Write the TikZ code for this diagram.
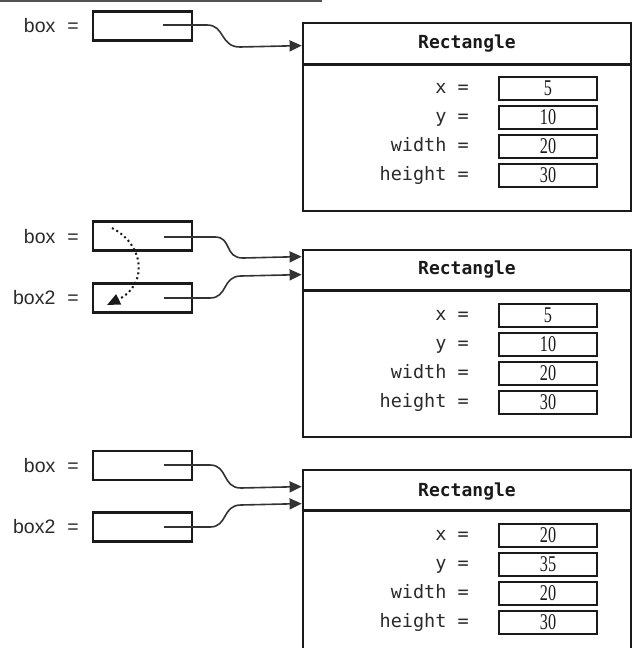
\documentclass[tikz,border=0pt]{standalone}
\usepackage{fontspec}
\setmainfont{Liberation Serif}
\newfontfamily\lblfont{Liberation Sans}
\newfontfamily\fieldfont{DejaVu Sans Mono}
\newfontfamily\valfont[FakeStretch=0.72]{Liberation Serif}
\usetikzlibrary{arrows.meta}

\definecolor{ink}{HTML}{1A1A1A}
\definecolor{txt}{HTML}{2A2A2A}
\definecolor{wire}{HTML}{333333}

\tikzset{
  varlbl/.style={anchor=east, inner sep=0pt, text height=14pt, text depth=4pt,
    text=txt, font=\lblfont\fontsize{19.5}{19}\selectfont},
  refbox/.style={draw=ink, line width=2.6pt, minimum width=99pt, minimum height=29pt, inner sep=0pt},
  objbox/.style={draw=ink, line width=2.8pt, minimum width=328pt, inner sep=0pt},
  objtitle/.style={inner sep=0pt, text=ink, font=\fieldfont\bfseries\fontsize{18}{18}\selectfont},
  fieldlbl/.style={anchor=east, inner sep=0pt, text height=13pt, text depth=4pt,
    text=txt, font=\fieldfont\fontsize{18.5}{18}\selectfont},
  valbox/.style={draw=ink, line width=2.3pt, minimum width=98pt, minimum height=23pt,
    inner sep=0pt, text=ink, font=\valfont\fontsize{22.5}{22}\selectfont},
  ptr/.style={draw=wire, line width=1.6pt, -{Triangle[length=12pt,width=11pt]}},
  copyptr/.style={draw=ink, line width=2pt, dash pattern=on 2pt off 3pt,
    -{Triangle[length=13pt,width=11pt]}},
  rule/.style={draw=wire!85, line width=1.8pt}
}

\begin{document}
\begin{tikzpicture}[x=1pt,y=-1pt]
\useasboundingbox (0,0) rectangle (635,648);

% rule across the top
\coordinate (ruleL) at (0,0.9);
\coordinate (ruleR) at (322,0.9);
\draw[rule] (ruleL) -- (ruleR);

% ---------- first state: one reference ----------
\node[varlbl] (n1) at (79,27) {box\hspace{12pt}=};
\node[refbox] (b1) at (142.5,26) {};
\node[objbox, minimum height=188pt] (R1) at (467,117) {};
\draw[ink, line width=2.8pt] ([yshift=-43pt]R1.north west) -- ([yshift=-43pt]R1.north east);
\node[objtitle] (T1) at (467,44) {Rectangle};
\foreach \lab/\val [count=\i from 0] in {x/5,y/10,width/20,height/30} {
  \node[fieldlbl] (R1l\i) at (469,88.5+29*\i) {\lab\ =};
  \node[valbox] (R1v\i) at (548,88.5+29*\i) {\val};
}
\coordinate (s1) at (163,25);
\coordinate (t1) at ([yshift=-24pt]R1.north west);
\draw[ptr] (s1) -- (207,25) .. controls (225,25) and (220,47) .. (240,47) -- (t1);

% ---------- second state: box2 = box ----------
\node[varlbl] (n2a) at (79,238) {box\hspace{12pt}=};
\node[varlbl] (n2b) at (79,299) {box2\hspace{12pt}=};
\node[refbox] (b2a) at (142.5,236) {};
\node[refbox] (b2b) at (142.5,298) {};
\node[objbox, minimum height=187pt] (R2) at (467,343.5) {};
\draw[ink, line width=2.8pt] ([yshift=-42pt]R2.north west) -- ([yshift=-42pt]R2.north east);
\node[objtitle] (T2) at (467,270) {Rectangle};
\foreach \lab/\val [count=\i from 0] in {x/5,y/10,width/20,height/30} {
  \node[fieldlbl] (R2l\i) at (469,315.5+29*\i) {\lab\ =};
  \node[valbox] (R2v\i) at (548,315.5+29*\i) {\val};
}
\coordinate (s2a) at (164,237);
\coordinate (s2b) at (164,298);
\coordinate (t2a) at ([yshift=-8pt]R2.north west);
\coordinate (t2b) at ([yshift=-26pt]R2.north west);
\draw[ptr] (s2a) -- (215,237) .. controls (232,237) and (224,258) .. (243,258) -- (t2a);
\draw[ptr] (s2b) -- (210,298) .. controls (228,298) and (222,276) .. (241,276) -- (t2b);
% copying the reference
\coordinate (c1) at (112,228);
\coordinate (c2) at (107,305);
\draw[copyptr] (c1) .. controls (145,245) and (148,285) .. (c2);

% ---------- third state: fields changed through box2 ----------
\node[varlbl] (n3a) at (79,467) {box\hspace{12pt}=};
\node[varlbl] (n3b) at (79,528) {box2\hspace{12pt}=};
\node[refbox] (b3a) at (142.5,465.5) {};
\node[refbox] (b3b) at (142.5,527) {};
\node[objbox, minimum height=188pt] (R3) at (467,564) {};
\draw[ink, line width=2.8pt] ([yshift=-42pt]R3.north west) -- ([yshift=-42pt]R3.north east);
\node[objtitle] (T3) at (467,492) {Rectangle};
\foreach \lab/\val [count=\i from 0] in {x/20,y/35,width/20,height/30} {
  \node[fieldlbl] (R3l\i) at (469,535.5+29*\i) {\lab\ =};
  \node[valbox] (R3v\i) at (548,535.5+29*\i) {\val};
}
\coordinate (s3a) at (164,465);
\coordinate (s3b) at (164,527);
\coordinate (t3a) at ([yshift=-18pt]R3.north west);
\coordinate (t3b) at ([yshift=-35pt]R3.north west);
\draw[ptr] (s3a) -- (210,465) .. controls (228,465) and (222,488) .. (241,488) -- (t3a);
\draw[ptr] (s3b) -- (210,527) .. controls (228,527) and (222,505) .. (241,505) -- (t3b);
\end{tikzpicture}
\end{document}
